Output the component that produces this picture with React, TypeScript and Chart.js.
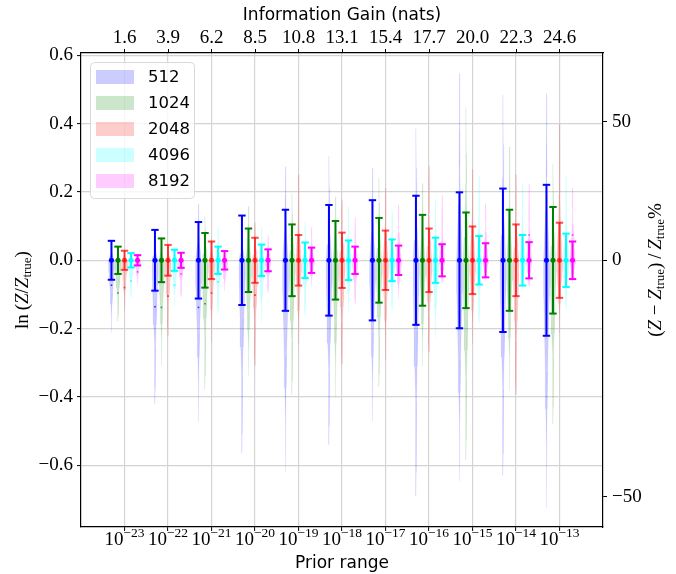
import React, { useEffect, useRef } from 'react';
import { Chart, registerables } from 'chart.js';

Chart.register(...registerables);

// Prior range exponents (bottom axis) and matching information gain (top axis)
const PRIOR_EXPONENTS = [-23, -22, -21, -20, -19, -18, -17, -16, -15, -14, -13];
const INFO_GAIN = ['1.6', '3.9', '6.2', '8.5', '10.8', '13.1', '15.4', '17.7', '20.0', '22.3', '24.6'];
const N_LIVE = ['512', '1024', '2048', '4096', '8192'];
const Y_TICKS = [-0.6, -0.4, -0.2, 0, 0.2, 0.4, 0.6];
const PCT_TICKS = [50, 0, -50];

// Error-bar half widths of ln(Z/Z_true)
const ERR_512 = [0.057, 0.089, 0.112, 0.131, 0.148, 0.162, 0.176, 0.189, 0.199, 0.21, 0.221];
const ERR_1024 = [0.04, 0.064, 0.08, 0.093, 0.105, 0.115, 0.124, 0.133, 0.14, 0.148, 0.156];
const ERR_2048 = [0.028, 0.045, 0.055, 0.066, 0.074, 0.081, 0.087, 0.093, 0.099, 0.105, 0.11];
const ERR_4096 = [0.021, 0.031, 0.04, 0.046, 0.052, 0.058, 0.061, 0.066, 0.071, 0.074, 0.078];
const ERR_8192 = [0.015, 0.022, 0.027, 0.032, 0.037, 0.04, 0.043, 0.047, 0.05, 0.053, 0.055];

// Violin extents (largest and smallest run)
const VMAX_512 = [0.057, 0.089, 0.166, 0.125, 0.274, 0.305, 0.271, 0.386, 0.547, 0.485, 0.488];
const VMIN_512 = [-0.212, -0.42, -0.474, -0.565, -0.621, -0.54, -0.471, -0.69, -0.646, -0.63, -0.725];
const VMAX_1024 = [0.04, 0.064, 0.129, 0.158, 0.196, 0.186, 0.24, 0.225, 0.448, 0.332, 0.283];
const VMIN_1024 = [-0.178, -0.309, -0.376, -0.34, -0.393, -0.402, -0.37, -0.311, -0.586, -0.38, -0.479];
const VMAX_2048 = [0.028, 0.045, 0.06, 0.11, 0.251, 0.178, 0.212, 0.277, 0.266, 0.252, 0.399];
const VMIN_2048 = [-0.147, -0.223, -0.24, -0.309, -0.247, -0.304, -0.294, -0.27, -0.245, -0.394, -0.213];
const VMAX_4096 = [0.022, 0.033, 0.097, 0.097, 0.113, 0.158, 0.145, 0.179, 0.247, 0.224, 0.247];
const VMIN_4096 = [-0.11, -0.139, -0.155, -0.183, -0.163, -0.152, -0.147, -0.228, -0.184, -0.09, -0.144];
const VMAX_8192 = [0.016, 0.025, 0.03, 0.073, 0.097, 0.126, 0.163, 0.19, 0.166, 0.223, 0.212];
const VMIN_8192 = [-0.073, -0.107, -0.09, -0.094, -0.078, -0.127, -0.115, -0.067, -0.06, -0.078, -0.068];

// Mean markers of each run set
const MEAN_512 = [-0.073, -0.136, -0.138, null, null, null, null, null, null, null, null];
const MEAN_1024 = [-0.096, -0.138, -0.127, null, null, null, null, null, null, null, null];
const MEAN_2048 = [-0.08, -0.105, -0.096, -0.102, null, null, null, null, null, null, null];
const MEAN_4096 = [-0.061, -0.073, -0.063, null, null, null, null, null, null, null, null];
const MEAN_8192 = [-0.034, -0.04, null, null, null, null, null, null, null, 0.074, 0.074];

const SERIES = [
  { rgb: '0,0,255', barAlpha: 1, err: ERR_512, vmax: VMAX_512, vmin: VMIN_512, mean: MEAN_512 },
  { rgb: '0,128,0', barAlpha: 1, err: ERR_1024, vmax: VMAX_1024, vmin: VMIN_1024, mean: MEAN_1024 },
  { rgb: '255,0,0', barAlpha: 0.7, err: ERR_2048, vmax: VMAX_2048, vmin: VMIN_2048, mean: MEAN_2048 },
  { rgb: '0,255,255', barAlpha: 1, err: ERR_4096, vmax: VMAX_4096, vmin: VMIN_4096, mean: MEAN_4096 },
  { rgb: '255,0,255', barAlpha: 1, err: ERR_8192, vmax: VMAX_8192, vmin: VMIN_8192, mean: MEAN_8192 },
];

const GROUP_STEP = 0.15;
const VIOLIN_HALF = 0.068;
// [fraction of extent, fraction of half width]
const UP_PROFILE = [[1, 0], [0.7, 0.08], [0.5, 0.16], [0.3, 0.35], [0.15, 0.65], [0, 0.95]];
const DOWN_PROFILE = [[0.05, 1], [0.15, 0.9], [0.3, 0.65], [0.45, 0.4], [0.6, 0.22], [0.75, 0.11], [0.9, 0.05], [1, 0]];

const SERIF = (px: number, italic = false) => `${italic ? 'italic ' : ''}${px}px "Liberation Serif"`;
const SANS = (px: number) => `${px}px "DejaVu Sans"`;
const rgba = (rgb: string, a: number) => `rgba(${rgb},${a})`;

type Run = { t: string; font: string; dy?: number };

function drawRuns(ctx: CanvasRenderingContext2D, runs: Run[], x: number, y: number) {
  const widths = runs.map((r) => {
    ctx.font = r.font;
    return ctx.measureText(r.t).width;
  });
  const total = widths.reduce((a, b) => a + b, 0);
  let cx = x - total / 2;
  ctx.textAlign = 'left';
  ctx.textBaseline = 'alphabetic';
  runs.forEach((r, i) => {
    ctx.font = r.font;
    ctx.fillText(r.t, cx, y + (r.dy ?? 0));
    cx += widths[i];
  });
}

const LEFT_TITLE: Run[] = [
  { t: 'ln', font: SERIF(19) },
  { t: '\u2009(', font: SERIF(19) },
  { t: 'Z', font: SERIF(19, true) },
  { t: '/', font: SERIF(19) },
  { t: 'Z', font: SERIF(19, true) },
  { t: 'true', font: SERIF(13), dy: 3 },
  { t: ')', font: SERIF(19) },
];

const RIGHT_TITLE: Run[] = [
  { t: '(', font: SERIF(19) },
  { t: 'Z', font: SERIF(19, true) },
  { t: ' \u2212 ', font: SERIF(19) },
  { t: 'Z', font: SERIF(19, true) },
  { t: 'true', font: SERIF(13), dy: 3 },
  { t: ')\u2009/\u2009', font: SERIF(19) },
  { t: 'Z', font: SERIF(19, true) },
  { t: 'true', font: SERIF(13), dy: 3 },
  { t: '%', font: SERIF(19) },
];

function violinPolygon(xc: number, top: number, bottom: number) {
  const side = [
    ...UP_PROFILE.map(([f, w]) => [top * f, w]),
    ...DOWN_PROFILE.map(([f, w]) => [bottom * f, w]),
  ];
  const right = side.map(([y, w]) => ({ x: xc + w * VIOLIN_HALF, y }));
  const left = side.slice().reverse().map(([y, w]) => ({ x: xc - w * VIOLIN_HALF, y }));
  return [...right, ...left];
}

function buildDatasets() {
  const sets: any[] = [];
  SERIES.forEach((s, k) => {
    const off = (k - 2) * GROUP_STEP;
    const color = rgba(s.rgb, s.barAlpha);
    // error bar stems
    const stems: any[] = [];
    s.err.forEach((e, i) => {
      stems.push({ x: i + off, y: -e }, { x: i + off, y: e }, { x: i + off, y: null });
    });
    sets.push({
      type: 'line', data: stems, borderColor: color, borderWidth: 2, pointRadius: 0,
      fill: false, spanGaps: false, order: 1,
    });
    // caps
    const caps: any[] = [];
    s.err.forEach((e, i) => caps.push({ x: i + off, y: -e }, { x: i + off, y: e }));
    sets.push({
      type: 'scatter', data: caps, pointStyle: 'line', pointRadius: 3.7,
      borderColor: color, pointBorderWidth: 2, borderWidth: 2, order: 1,
    });
    // central values
    sets.push({
      type: 'scatter', data: s.err.map((_, i) => ({ x: i + off, y: 0 })),
      pointStyle: 'circle', pointRadius: 2.5, backgroundColor: color, borderColor: color,
      pointBorderWidth: 0, order: 1,
    });
    // means
    sets.push({
      type: 'scatter',
      data: s.mean.map((m, i) => ({ x: i + off, y: m })).filter((p) => p.y !== null),
      pointStyle: 'rect', pointRadius: 1.1, backgroundColor: rgba(s.rgb, 0.8),
      borderColor: rgba(s.rgb, 0.8), pointBorderWidth: 0, order: 1,
    });
    // violins
    s.vmax.forEach((top, i) => {
      sets.push({
        type: 'line', data: violinPolygon(i + off, top, s.vmin[i]), fill: 'shape',
        backgroundColor: rgba(s.rgb, 0.2), borderColor: rgba(s.rgb, 0.1), borderWidth: 0.5,
        pointRadius: 0, tension: 0, order: 2,
      });
    });
  });
  return sets;
}

const overlayPlugin = {
  id: 'overlay',
  afterDraw(chart: any) {
    const ctx: CanvasRenderingContext2D = chart.ctx;
    const xs = chart.scales.x;
    const area = chart.chartArea;
    ctx.save();
    ctx.fillStyle = '#000';
    // bottom tick labels 10^n
    PRIOR_EXPONENTS.forEach((e, i) => {
      const px = xs.getPixelForValue(i);
      drawRuns(ctx, [
        { t: '10', font: SERIF(19) },
        { t: '\u2212' + Math.abs(e), font: SERIF(13.5), dy: -8 },
      ], px, area.bottom + 18);
    });
    // left axis title
    ctx.save();
    ctx.translate(28, (area.top + area.bottom) / 2);
    ctx.rotate(-Math.PI / 2);
    drawRuns(ctx, LEFT_TITLE, 0, 0);
    ctx.restore();
    // right axis title
    ctx.save();
    ctx.translate(chart.width - 15, area.top + 217);
    ctx.rotate(-Math.PI / 2);
    drawRuns(ctx, RIGHT_TITLE, 0, 0);
    ctx.restore();
    // legend
    const lx = area.left + 9;
    const ly = area.top + 9;
    ctx.beginPath();
    ctx.roundRect(lx + 0.5, ly + 0.5, 104, 136, 4);
    ctx.fillStyle = 'rgba(255,255,255,0.8)';
    ctx.fill();
    ctx.strokeStyle = '#d9d9d9';
    ctx.lineWidth = 1;
    ctx.stroke();
    N_LIVE.forEach((lab, k) => {
      const cy = ly + 15 + k * 26;
      ctx.fillStyle = rgba(SERIES[k].rgb, 0.2);
      ctx.fillRect(lx + 6, cy - 7, 38, 14);
      ctx.fillStyle = '#000';
      ctx.font = SANS(16.5);
      ctx.textAlign = 'left';
      ctx.textBaseline = 'middle';
      ctx.fillText(lab, lx + 58, cy + 1);
    });
    ctx.restore();
  },
};

export default function App() {
  const ref = useRef<HTMLCanvasElement>(null);
  useEffect(() => {
    if (!ref.current) return;
    const tickFont = { family: 'Liberation Serif', size: 19 };
    const chart = new Chart(ref.current, {
      type: 'scatter',
      data: { datasets: buildDatasets() },
      plugins: [overlayPlugin],
      options: {
        animation: false,
        responsive: false,
        devicePixelRatio: 1,
        events: [],
        layout: { padding: 0 },
        plugins: { legend: { display: false }, tooltip: { enabled: false } },
        scales: {
          x: {
            type: 'linear', position: 'bottom', min: -1, max: 11,
            afterBuildTicks: (s: any) => { s.ticks = PRIOR_EXPONENTS.map((_, i) => ({ value: i })); },
            afterFit: (s: any) => { s.height = 47; },
            ticks: { callback: () => '', autoSkip: false, maxRotation: 0 },
            grid: { color: '#d4d4d4', lineWidth: 1.2, tickColor: '#000', tickWidth: 1, tickLength: 4 },
            border: { display: true, color: '#000', width: 1.2 },
            title: { display: true, text: 'Prior range', color: '#000', font: { family: 'DejaVu Sans', size: 17 }, padding: { top: 0, bottom: 0 } },
          },
          x2: {
            type: 'linear', position: 'top', min: -1, max: 11,
            afterBuildTicks: (s: any) => { s.ticks = INFO_GAIN.map((_, i) => ({ value: i })); },
            afterFit: (s: any) => { s.height = 53; },
            ticks: { callback: (_v: any, i: number) => INFO_GAIN[i], autoSkip: false, maxRotation: 0, color: '#000', font: tickFont, padding: 0 },
            grid: { drawOnChartArea: false, tickColor: '#000', tickWidth: 1, tickLength: 4 },
            border: { display: true, color: '#000', width: 1.2 },
            title: { display: true, text: 'Information Gain (nats)', color: '#000', font: { family: 'DejaVu Sans', size: 17 }, padding: { top: 5, bottom: 0 } },
          },
          y: {
            type: 'linear', position: 'left', min: -0.781, max: 0.607,
            afterBuildTicks: (s: any) => { s.ticks = Y_TICKS.map((v) => ({ value: v })); },
            afterFit: (s: any) => { s.width = 81; },
            ticks: {
              callback: (v: any) => (v < 0 ? '\u2212' : '') + Math.abs(v).toFixed(1),
              color: '#000', font: tickFont, padding: 4,
            },
            grid: { color: '#d4d4d4', lineWidth: 1.2, tickColor: '#000', tickWidth: 1, tickLength: 4 },
            border: { display: true, color: '#000', width: 1.2 },
          },
          y2: {
            type: 'linear', position: 'right', min: -0.781, max: 0.607,
            afterBuildTicks: (s: any) => { s.ticks = PCT_TICKS.map((p) => ({ value: Math.log(1 + p / 100) })); },
            afterFit: (s: any) => { s.width = 73; },
            ticks: {
              callback: (_v: any, i: number) => (PCT_TICKS[i] < 0 ? '\u2212' : '') + Math.abs(PCT_TICKS[i]),
              color: '#000', font: tickFont, padding: 5,
            },
            grid: { drawOnChartArea: false, tickColor: '#000', tickWidth: 1, tickLength: 4 },
            border: { display: true, color: '#000', width: 1.2 },
          },
        },
      } as any,
    });
    return () => chart.destroy();
  }, []);

  return (
    <div style={{ position: 'absolute', left: 0, top: 0, width: 676, height: 574, background: '#fff' }}>
      <canvas ref={ref} width={676} height={574} style={{ display: 'block' }} />
    </div>
  );
}
